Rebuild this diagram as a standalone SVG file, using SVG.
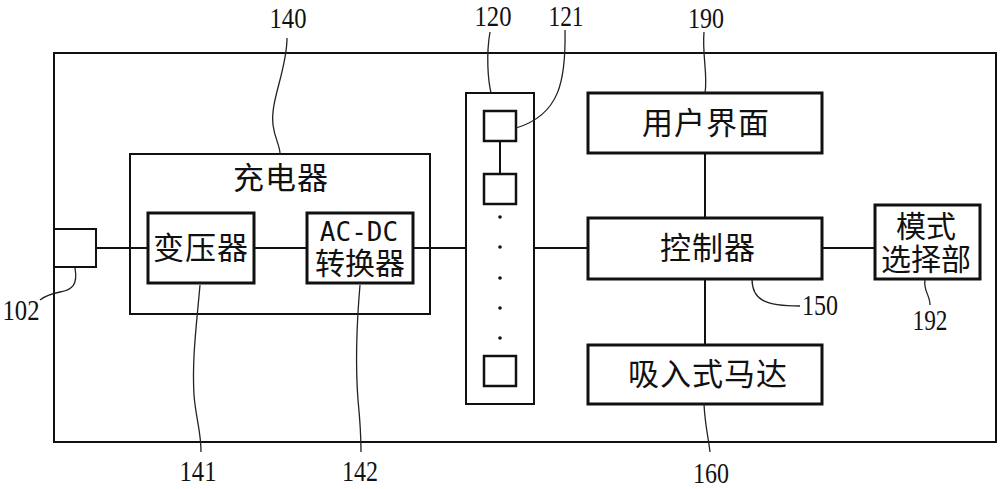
<svg xmlns="http://www.w3.org/2000/svg" width="1000" height="489" viewBox="0 0 1000 489">
<style>
.frame{fill:#fff;stroke:#111;stroke-width:2}
.box{fill:#fff;stroke:#111;stroke-width:3}
.sq{fill:#fff;stroke:#111;stroke-width:2.5}
.conn line{stroke:#111;stroke-width:2}
.lead{fill:none;stroke:#222;stroke-width:1.3}
.cn{font-family:"Noto Sans CJK SC","Noto Sans",sans-serif;font-size:31px;fill:#111;text-anchor:middle;letter-spacing:1px}
.cn2{font-family:"Noto Sans CJK SC","Noto Sans",sans-serif;font-size:30px;fill:#111;text-anchor:middle}
.mono{font-family:"DejaVu Sans Mono","Liberation Mono",monospace;font-size:26px;fill:#111;text-anchor:middle}
.num{font-family:"Liberation Serif",serif;font-size:30px;fill:#111;text-anchor:middle}
</style>
<rect width="1000" height="489" fill="#fff"/>
<g id="housing"><rect class="frame" x="54" y="53" width="942" height="389"/></g>
<g id="port102"><rect class="frame" x="54" y="229" width="42" height="38"/></g>
<g id="charger140"><rect class="frame" x="130" y="154" width="300" height="160"/><text class="cn" x="281" y="189">充电器</text></g>
<g id="transformer141"><rect class="box" x="148" y="213" width="106" height="70"/><text class="cn" x="201" y="259">变压器</text></g>
<g id="acdc142"><rect class="box" x="307" y="213" width="106" height="70"/><text class="mono" x="359" y="241">AC-DC</text><text class="cn2" x="360" y="274">转换器</text></g>
<g id="bus120"><rect class="frame" x="466" y="93" width="68" height="311"/>
<rect class="sq" x="484" y="111" width="32" height="30"/>
<rect class="sq" x="484" y="174" width="32" height="30"/>
<rect class="sq" x="484" y="356" width="32" height="30"/>
<g fill="#111"><circle cx="500" cy="217" r="1.8"/><circle cx="500" cy="247" r="1.8"/><circle cx="500" cy="278" r="1.8"/><circle cx="500" cy="308" r="1.8"/><circle cx="500" cy="338" r="1.8"/></g></g>
<g id="ui190"><rect class="box" x="588" y="93" width="234" height="60"/><text class="cn" x="706" y="134">用户界面</text></g>
<g id="controller150"><rect class="box" x="588" y="218" width="234" height="61"/><text class="cn" x="708" y="259">控制器</text></g>
<g id="motor160"><rect class="box" x="588" y="345" width="234" height="59"/><text class="cn" x="708" y="385">吸入式马达</text></g>
<g id="mode192"><rect class="box" x="875" y="205" width="105" height="74"/><text class="cn2" x="926" y="237">模式</text><text class="cn2" x="926" y="270">选择部</text></g>
<g id="connectors" class="conn">
<line x1="96" y1="248" x2="148" y2="248"/>
<line x1="254" y1="248" x2="307" y2="248"/>
<line x1="413" y1="248" x2="466" y2="248"/>
<line x1="534" y1="248" x2="588" y2="248"/>
<line x1="705" y1="153" x2="705" y2="218"/>
<line x1="705" y1="279" x2="705" y2="345"/>
<line x1="822" y1="248" x2="875" y2="248"/>
<line x1="500" y1="141" x2="500" y2="174"/>
</g>
<g id="leaders">
<path class="lead" d="M287,38 C287,70 270,100 273,125 C275,140 280,145 280,154"/>
<path class="lead" d="M490,32 C486,55 488,80 491,93"/>
<path class="lead" d="M565,30 C566,80 560,115 516,128"/>
<path class="lead" d="M704,32 C702,55 708,75 705,93"/>
<path class="lead" d="M75,268 C78,285 72,290 60,292 C50,294 45,296 40,300"/>
<path class="lead" d="M200,285 C196,330 192,360 194,395 C196,420 201,430 201,452"/>
<path class="lead" d="M360,285 C357,320 355,360 358,400 C361,430 361,440 361,452"/>
<path class="lead" d="M752,279 C752,300 765,306 800,306"/>
<path class="lead" d="M925,280 C923,290 930,295 930,305"/>
<path class="lead" d="M704,404 C705,425 708,435 710,452"/>
</g>
<g id="labels">
<text class="num" x="288" y="28" textLength="37" lengthAdjust="spacingAndGlyphs">140</text>
<text class="num" x="493" y="26" textLength="37" lengthAdjust="spacingAndGlyphs">120</text>
<text class="num" x="566" y="26" textLength="35" lengthAdjust="spacingAndGlyphs">121</text>
<text class="num" x="706" y="28" textLength="36" lengthAdjust="spacingAndGlyphs">190</text>
<text class="num" x="21" y="320" textLength="37" lengthAdjust="spacingAndGlyphs">102</text>
<text class="num" x="198" y="481" textLength="37" lengthAdjust="spacingAndGlyphs">141</text>
<text class="num" x="360" y="481" textLength="36" lengthAdjust="spacingAndGlyphs">142</text>
<text class="num" x="820" y="315" textLength="36" lengthAdjust="spacingAndGlyphs">150</text>
<text class="num" x="930" y="330" textLength="35" lengthAdjust="spacingAndGlyphs">192</text>
<text class="num" x="711" y="483" textLength="36" lengthAdjust="spacingAndGlyphs">160</text>
</g>
</svg>
